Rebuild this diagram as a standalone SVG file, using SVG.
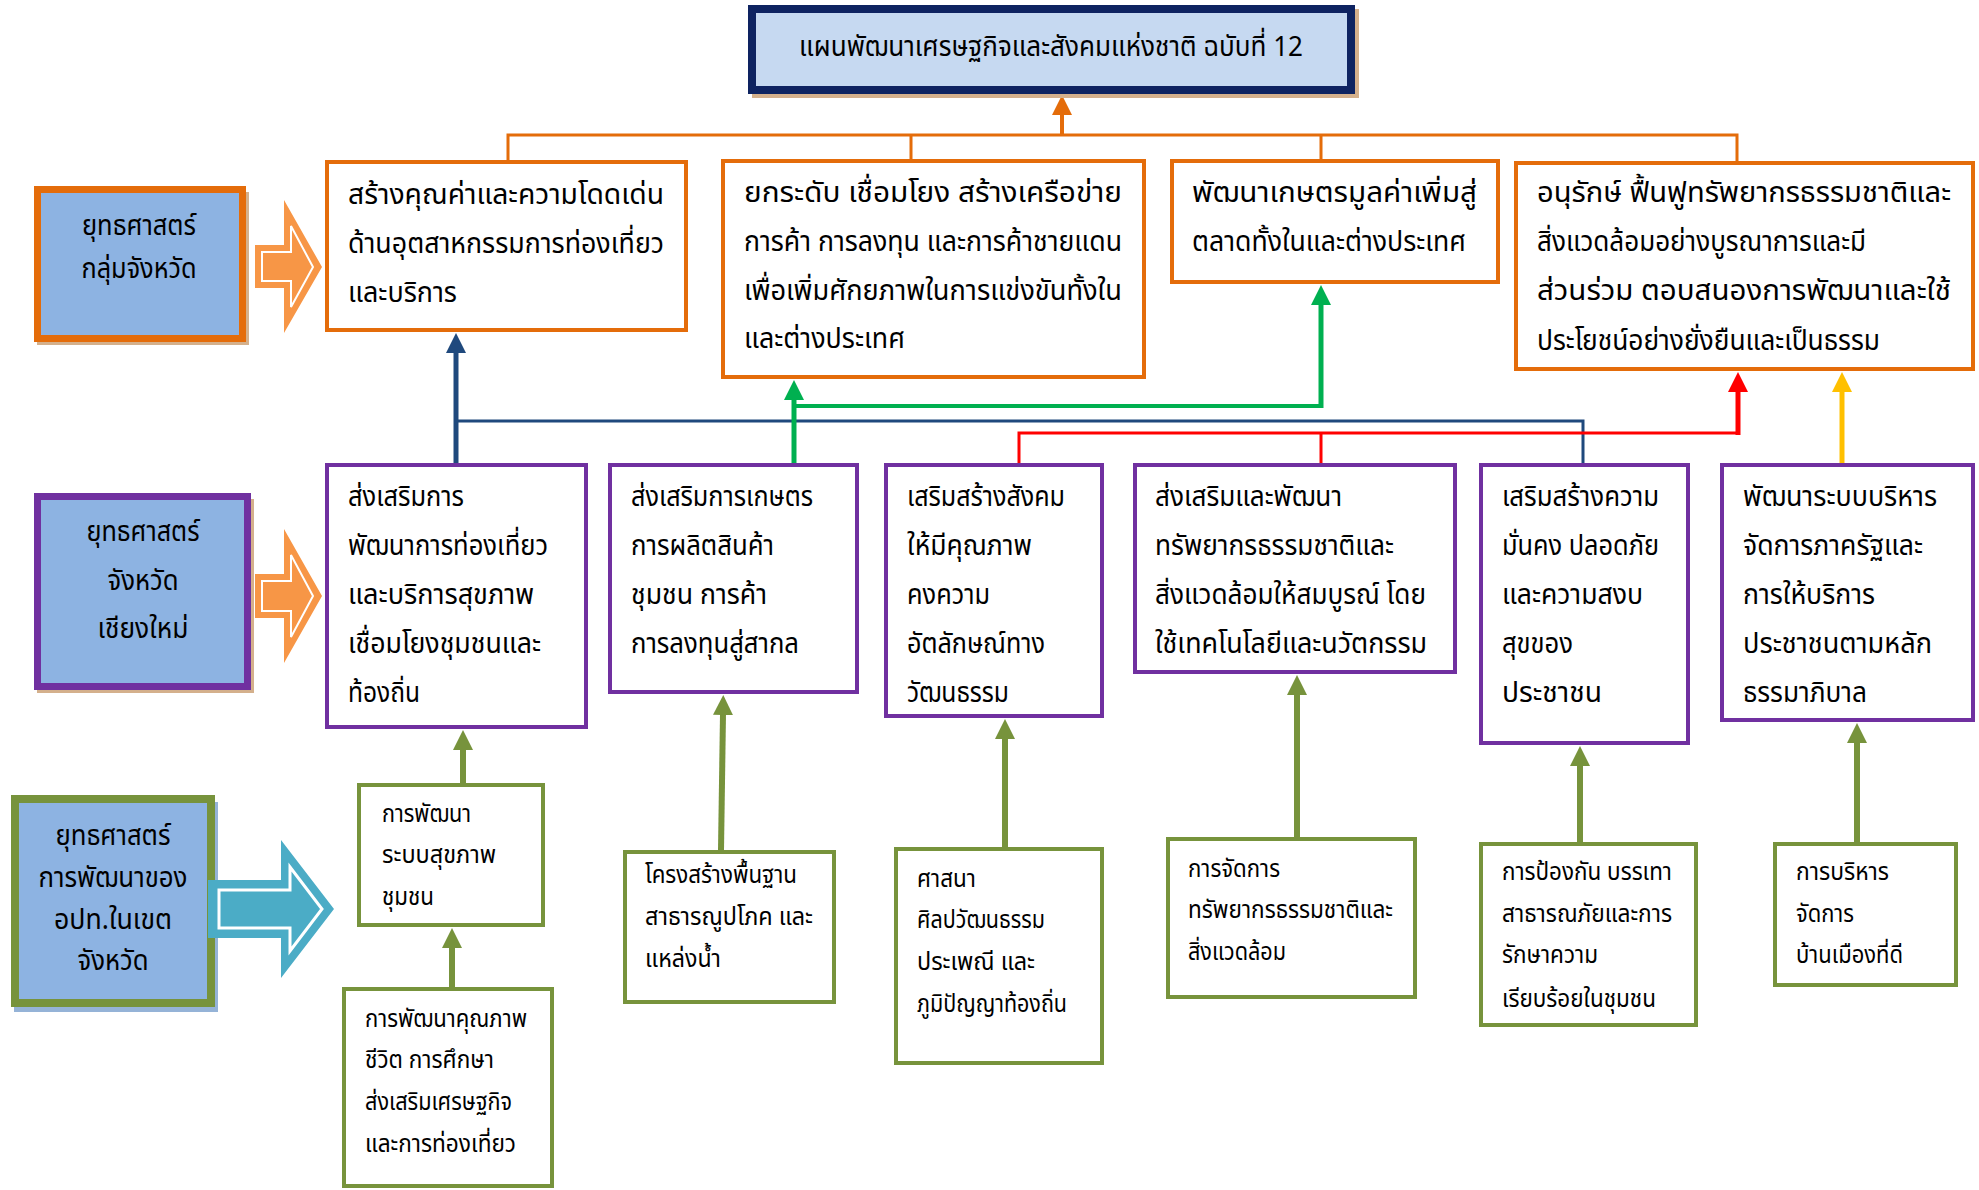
<svg xmlns="http://www.w3.org/2000/svg" width="1979" height="1190" viewBox="0 0 1979 1190">
<style>
text{font-family:"Noto Sans Thai","Noto Sans","DejaVu Sans",sans-serif;fill:#000;}
.t{font-size:28px;}
.s{font-size:24px;}
.g{font-size:29px;text-anchor:middle;}
.ti{font-size:28px;text-anchor:middle;}
.ob{fill:#fff;stroke:#E46C0A;stroke-width:4;}
.pb{fill:#fff;stroke:#7030A0;stroke-width:4;}
.gb{fill:#fff;stroke:#77933C;stroke-width:4;}
.sh{fill:#D4B08C;}
.c{fill:none;}
</style>
<defs>
<marker id="mO" markerUnits="userSpaceOnUse" viewBox="0 0 20 20" markerWidth="20" markerHeight="20" refX="1" refY="10" orient="auto"><path d="M0,0 L20,10 L0,20 z" fill="#E46C0A"/></marker>
<marker id="mN" markerUnits="userSpaceOnUse" viewBox="0 0 20 20" markerWidth="20" markerHeight="20" refX="1" refY="10" orient="auto"><path d="M0,0 L20,10 L0,20 z" fill="#1F497D"/></marker>
<marker id="mG" markerUnits="userSpaceOnUse" viewBox="0 0 20 20" markerWidth="20" markerHeight="20" refX="1" refY="10" orient="auto"><path d="M0,0 L20,10 L0,20 z" fill="#00B050"/></marker>
<marker id="mR" markerUnits="userSpaceOnUse" viewBox="0 0 20 20" markerWidth="20" markerHeight="20" refX="1" refY="10" orient="auto"><path d="M0,0 L20,10 L0,20 z" fill="#FF0000"/></marker>
<marker id="mY" markerUnits="userSpaceOnUse" viewBox="0 0 20 20" markerWidth="20" markerHeight="20" refX="1" refY="10" orient="auto"><path d="M0,0 L20,10 L0,20 z" fill="#FFC000"/></marker>
<marker id="mL" markerUnits="userSpaceOnUse" viewBox="0 0 20 20" markerWidth="20" markerHeight="20" refX="1" refY="10" orient="auto"><path d="M0,0 L20,10 L0,20 z" fill="#77933C"/></marker>
</defs>

<g id="connectors">
<path class="c" d="M508,160 V135 H1737 V161 M911,135 V159 M1321,135 V159" stroke="#E46C0A" stroke-width="3"/>
<path class="c" d="M1062,135 V114" stroke="#E46C0A" stroke-width="4" marker-end="url(#mO)"/>
<path class="c" d="M456,421 H1583 V463" stroke="#1F497D" stroke-width="3"/>
<path class="c" d="M456,463 V352" stroke="#1F497D" stroke-width="5" marker-end="url(#mN)"/>
<path class="c" d="M794,406 H1321" stroke="#00B050" stroke-width="4"/>
<path class="c" d="M794,463 V399" stroke="#00B050" stroke-width="5" marker-end="url(#mG)"/>
<path class="c" d="M1321,408 V304" stroke="#00B050" stroke-width="5" marker-end="url(#mG)"/>
<path class="c" d="M1019,463 V433 H1738 M1321,433 V463" stroke="#FF0000" stroke-width="3"/>
<path class="c" d="M1738,435 V391" stroke="#FF0000" stroke-width="5" marker-end="url(#mR)"/>
<path class="c" d="M1842,463 V391" stroke="#FFC000" stroke-width="5" marker-end="url(#mY)"/>
<g stroke="#77933C" stroke-width="6" fill="none">
<path d="M463,783 V749" marker-end="url(#mL)"/>
<path d="M452,987 V947" marker-end="url(#mL)"/>
<path d="M721,850 L723,714" marker-end="url(#mL)"/>
<path d="M1005,847 V738" marker-end="url(#mL)"/>
<path d="M1297,837 V694" marker-end="url(#mL)"/>
<path d="M1580,842 V765" marker-end="url(#mL)"/>
<path d="M1857,842 V742" marker-end="url(#mL)"/>
</g>
</g>

<g id="title">
<rect class="sh" x="752" y="9" width="607" height="89"/>
<rect x="752" y="9" width="599" height="81" fill="#C6D9F1" stroke="#0E2361" stroke-width="8"/>
<text class="ti" x="1051" y="56" textLength="504" lengthAdjust="spacingAndGlyphs">แผนพัฒนาเศรษฐกิจและสังคมแห่งชาติ ฉบับที่ 12</text>
</g>

<g id="strategy-group">
<rect class="sh" x="37" y="192" width="212" height="153"/>
<rect x="37.5" y="189.5" width="205" height="149" fill="#8DB3E2" stroke="#E46C0A" stroke-width="7"/>
<text class="g" x="139" y="235" textLength="114" lengthAdjust="spacingAndGlyphs">ยุทธศาสตร์</text>
<text class="g" x="139" y="278" textLength="115" lengthAdjust="spacingAndGlyphs">กลุ่มจังหวัด</text>
</g>
<g id="arrow-1">
<polygon points="255,245 284,245 284,200 322,267 284,333 284,288 255,288" fill="#F79646"/>
<polygon points="262,252 291,252 291,226 313,267 291,307 291,281 262,281" fill="none" stroke="#fff" stroke-width="2"/>
</g>

<g id="strategy-province">
<rect class="sh" x="37" y="499" width="217" height="194"/>
<rect x="37.5" y="496.5" width="210" height="190" fill="#8DB3E2" stroke="#7030A0" stroke-width="7"/>
<text class="g" x="143" y="541" textLength="113" lengthAdjust="spacingAndGlyphs">ยุทธศาสตร์</text>
<text class="g" x="143" y="590" textLength="71" lengthAdjust="spacingAndGlyphs">จังหวัด</text>
<text class="g" x="143" y="638" textLength="91" lengthAdjust="spacingAndGlyphs">เชียงใหม่</text>
</g>
<g id="arrow-2">
<polygon points="255,574 284,574 284,529 322,596 284,663 284,618 255,618" fill="#F79646"/>
<polygon points="262,581 291,581 291,555 313,596 291,637 291,611 262,611" fill="none" stroke="#fff" stroke-width="2"/>
</g>

<g id="strategy-local">
<rect x="14" y="802" width="204" height="210" fill="#95B3D7"/>
<rect x="15" y="799" width="196" height="204" fill="#8DB3E2" stroke="#77933C" stroke-width="8"/>
<text class="g" x="113" y="845" textLength="115" lengthAdjust="spacingAndGlyphs">ยุทธศาสตร์</text>
<text class="g" x="113" y="887" textLength="149" lengthAdjust="spacingAndGlyphs">การพัฒนาของ</text>
<text class="g" x="113" y="929" textLength="118" lengthAdjust="spacingAndGlyphs">อปท.ในเขต</text>
<text class="g" x="113" y="970" textLength="71" lengthAdjust="spacingAndGlyphs">จังหวัด</text>
</g>
<g id="arrow-3">
<polygon points="208,880 281,880 281,840 334,909 281,978 281,938 208,938" fill="#4BACC6"/>
<polygon points="219,890 290,890 290,867 322,909 290,951 290,928 219,928" fill="none" stroke="#fff" stroke-width="3"/>
</g>

<g id="top-a">
<rect class="ob" x="327" y="162" width="359" height="168"/>
<text class="t" x="348" y="204" textLength="316" lengthAdjust="spacingAndGlyphs">สร้างคุณค่าและความโดดเด่น</text>
<text class="t" x="348" y="253" textLength="316" lengthAdjust="spacingAndGlyphs">ด้านอุตสาหกรรมการท่องเที่ยว</text>
<text class="t" x="348" y="302" textLength="109" lengthAdjust="spacingAndGlyphs">และบริการ</text>
</g>
<g id="top-b">
<rect class="ob" x="723" y="161" width="421" height="216"/>
<text class="t" x="744" y="202" textLength="378" lengthAdjust="spacingAndGlyphs">ยกระดับ เชื่อมโยง สร้างเครือข่าย</text>
<text class="t" x="744" y="251" textLength="378" lengthAdjust="spacingAndGlyphs">การค้า การลงทุน และการค้าชายแดน</text>
<text class="t" x="744" y="300" textLength="378" lengthAdjust="spacingAndGlyphs">เพื่อเพิ่มศักยภาพในการแข่งขันทั้งใน</text>
<text class="t" x="744" y="348" textLength="161" lengthAdjust="spacingAndGlyphs">และต่างประเทศ</text>
</g>
<g id="top-c">
<rect class="ob" x="1172" y="161" width="326" height="121"/>
<text class="t" x="1192" y="202" textLength="285" lengthAdjust="spacingAndGlyphs">พัฒนาเกษตรมูลค่าเพิ่มสู่</text>
<text class="t" x="1192" y="251" textLength="274" lengthAdjust="spacingAndGlyphs">ตลาดทั้งในและต่างประเทศ</text>
</g>
<g id="top-d">
<rect class="ob" x="1516" y="163" width="457" height="206"/>
<text class="t" x="1537" y="202" textLength="414" lengthAdjust="spacingAndGlyphs">อนุรักษ์ ฟื้นฟูทรัพยากรธรรมชาติและ</text>
<text class="t" x="1537" y="251" textLength="329" lengthAdjust="spacingAndGlyphs">สิ่งแวดล้อมอย่างบูรณาการและมี</text>
<text class="t" x="1537" y="300" textLength="414" lengthAdjust="spacingAndGlyphs">ส่วนร่วม ตอบสนองการพัฒนาและใช้</text>
<text class="t" x="1537" y="350" textLength="343" lengthAdjust="spacingAndGlyphs">ประโยชน์อย่างยั่งยืนและเป็นธรรม</text>
</g>

<g id="mid-1">
<rect class="pb" x="327" y="465" width="259" height="262"/>
<text class="t" x="348" y="506" textLength="116" lengthAdjust="spacingAndGlyphs">ส่งเสริมการ</text>
<text class="t" x="348" y="555" textLength="200" lengthAdjust="spacingAndGlyphs">พัฒนาการท่องเที่ยว</text>
<text class="t" x="348" y="604" textLength="186" lengthAdjust="spacingAndGlyphs">และบริการสุขภาพ</text>
<text class="t" x="348" y="653" textLength="193" lengthAdjust="spacingAndGlyphs">เชื่อมโยงชุมชนและ</text>
<text class="t" x="348" y="702" textLength="72" lengthAdjust="spacingAndGlyphs">ท้องถิ่น</text>
</g>
<g id="mid-2">
<rect class="pb" x="610" y="465" width="247" height="227"/>
<text class="t" x="631" y="506" textLength="182" lengthAdjust="spacingAndGlyphs">ส่งเสริมการเกษตร</text>
<text class="t" x="631" y="555" textLength="143" lengthAdjust="spacingAndGlyphs">การผลิตสินค้า</text>
<text class="t" x="631" y="604" textLength="136" lengthAdjust="spacingAndGlyphs">ชุมชน การค้า</text>
<text class="t" x="631" y="653" textLength="168" lengthAdjust="spacingAndGlyphs">การลงทุนสู่สากล</text>
</g>
<g id="mid-3">
<rect class="pb" x="886" y="465" width="216" height="251"/>
<text class="t" x="907" y="506" textLength="158" lengthAdjust="spacingAndGlyphs">เสริมสร้างสังคม</text>
<text class="t" x="907" y="555" textLength="125" lengthAdjust="spacingAndGlyphs">ให้มีคุณภาพ</text>
<text class="t" x="907" y="604" textLength="83" lengthAdjust="spacingAndGlyphs">คงความ</text>
<text class="t" x="907" y="653" textLength="138" lengthAdjust="spacingAndGlyphs">อัตลักษณ์ทาง</text>
<text class="t" x="907" y="702" textLength="102" lengthAdjust="spacingAndGlyphs">วัฒนธรรม</text>
</g>
<g id="mid-4">
<rect class="pb" x="1135" y="465" width="320" height="207"/>
<text class="t" x="1155" y="506" textLength="187" lengthAdjust="spacingAndGlyphs">ส่งเสริมและพัฒนา</text>
<text class="t" x="1155" y="555" textLength="239" lengthAdjust="spacingAndGlyphs">ทรัพยากรธรรมชาติและ</text>
<text class="t" x="1155" y="604" textLength="271" lengthAdjust="spacingAndGlyphs">สิ่งแวดล้อมให้สมบูรณ์ โดย</text>
<text class="t" x="1155" y="653" textLength="272" lengthAdjust="spacingAndGlyphs">ใช้เทคโนโลยีและนวัตกรรม</text>
</g>
<g id="mid-5">
<rect class="pb" x="1481" y="465" width="207" height="278"/>
<text class="t" x="1502" y="506" textLength="157" lengthAdjust="spacingAndGlyphs">เสริมสร้างความ</text>
<text class="t" x="1502" y="555" textLength="157" lengthAdjust="spacingAndGlyphs">มั่นคง ปลอดภัย</text>
<text class="t" x="1502" y="604" textLength="141" lengthAdjust="spacingAndGlyphs">และความสงบ</text>
<text class="t" x="1502" y="653" textLength="71" lengthAdjust="spacingAndGlyphs">สุขของ</text>
<text class="t" x="1502" y="702" textLength="100" lengthAdjust="spacingAndGlyphs">ประชาชน</text>
</g>
<g id="mid-6">
<rect class="pb" x="1722" y="465" width="251" height="255"/>
<text class="t" x="1743" y="506" textLength="194" lengthAdjust="spacingAndGlyphs">พัฒนาระบบบริหาร</text>
<text class="t" x="1743" y="555" textLength="180" lengthAdjust="spacingAndGlyphs">จัดการภาครัฐและ</text>
<text class="t" x="1743" y="604" textLength="132" lengthAdjust="spacingAndGlyphs">การให้บริการ</text>
<text class="t" x="1743" y="653" textLength="189" lengthAdjust="spacingAndGlyphs">ประชาชนตามหลัก</text>
<text class="t" x="1743" y="702" textLength="124" lengthAdjust="spacingAndGlyphs">ธรรมาภิบาล</text>
</g>

<g id="bot-1">
<rect class="gb" x="359" y="785" width="184" height="140"/>
<text class="s" x="382" y="822" textLength="89" lengthAdjust="spacingAndGlyphs">การพัฒนา</text>
<text class="s" x="382" y="863" textLength="114" lengthAdjust="spacingAndGlyphs">ระบบสุขภาพ</text>
<text class="s" x="382" y="905" textLength="52" lengthAdjust="spacingAndGlyphs">ชุมชน</text>
</g>
<g id="bot-1b">
<rect class="gb" x="344" y="989" width="208" height="197"/>
<text class="s" x="365" y="1027" textLength="162" lengthAdjust="spacingAndGlyphs">การพัฒนาคุณภาพ</text>
<text class="s" x="365" y="1068" textLength="129" lengthAdjust="spacingAndGlyphs">ชีวิต การศึกษา</text>
<text class="s" x="365" y="1110" textLength="147" lengthAdjust="spacingAndGlyphs">ส่งเสริมเศรษฐกิจ</text>
<text class="s" x="365" y="1152" textLength="151" lengthAdjust="spacingAndGlyphs">และการท่องเที่ยว</text>
</g>
<g id="bot-2">
<rect class="gb" x="625" y="852" width="209" height="150"/>
<text class="s" x="645" y="883" textLength="152" lengthAdjust="spacingAndGlyphs">โครงสร้างพื้นฐาน</text>
<text class="s" x="645" y="925" textLength="168" lengthAdjust="spacingAndGlyphs">สาธารณูปโภค และ</text>
<text class="s" x="645" y="967" textLength="76" lengthAdjust="spacingAndGlyphs">แหล่งน้ำ</text>
</g>
<g id="bot-3">
<rect class="gb" x="896" y="849" width="206" height="214"/>
<text class="s" x="917" y="887" textLength="59" lengthAdjust="spacingAndGlyphs">ศาสนา</text>
<text class="s" x="917" y="928" textLength="128" lengthAdjust="spacingAndGlyphs">ศิลปวัฒนธรรม</text>
<text class="s" x="917" y="970" textLength="118" lengthAdjust="spacingAndGlyphs">ประเพณี และ</text>
<text class="s" x="917" y="1012" textLength="150" lengthAdjust="spacingAndGlyphs">ภูมิปัญญาท้องถิ่น</text>
</g>
<g id="bot-4">
<rect class="gb" x="1168" y="839" width="247" height="158"/>
<text class="s" x="1188" y="877" textLength="92" lengthAdjust="spacingAndGlyphs">การจัดการ</text>
<text class="s" x="1188" y="918" textLength="205" lengthAdjust="spacingAndGlyphs">ทรัพยากรธรรมชาติและ</text>
<text class="s" x="1188" y="960" textLength="98" lengthAdjust="spacingAndGlyphs">สิ่งแวดล้อม</text>
</g>
<g id="bot-5">
<rect class="gb" x="1481" y="844" width="215" height="181"/>
<text class="s" x="1502" y="880" textLength="170" lengthAdjust="spacingAndGlyphs">การป้องกัน บรรเทา</text>
<text class="s" x="1502" y="922" textLength="170" lengthAdjust="spacingAndGlyphs">สาธารณภัยและการ</text>
<text class="s" x="1502" y="963" textLength="96" lengthAdjust="spacingAndGlyphs">รักษาความ</text>
<text class="s" x="1502" y="1007" textLength="154" lengthAdjust="spacingAndGlyphs">เรียบร้อยในชุมชน</text>
</g>
<g id="bot-6">
<rect class="gb" x="1775" y="844" width="181" height="141"/>
<text class="s" x="1796" y="880" textLength="93" lengthAdjust="spacingAndGlyphs">การบริหาร</text>
<text class="s" x="1796" y="922" textLength="58" lengthAdjust="spacingAndGlyphs">จัดการ</text>
<text class="s" x="1796" y="963" textLength="107" lengthAdjust="spacingAndGlyphs">บ้านเมืองที่ดี</text>
</g>
</svg>
